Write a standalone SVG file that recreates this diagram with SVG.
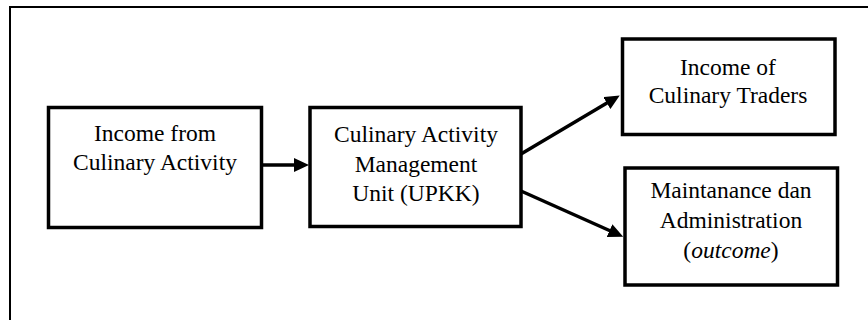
<svg xmlns="http://www.w3.org/2000/svg" width="868" height="320" viewBox="0 0 868 320">
<style>
.box{fill:#fff;stroke:#000;stroke-width:3.5}
.t{font-family:"Liberation Serif","Times New Roman",serif;font-size:23.5px;fill:#000;text-anchor:middle}
.c{stroke:#000;stroke-width:3.5;fill:none;marker-end:url(#ah)}
</style>
<defs>
<marker id="ah" markerUnits="userSpaceOnUse" markerWidth="15" markerHeight="14" viewBox="0 0 15 14" refX="6" refY="7" orient="auto">
<path d="M0,0 L15,7 L0,14 z" fill="#000"/>
</marker>
</defs>
<rect x="0" y="0" width="868" height="320" fill="#fff"/>
<rect x="10" y="7" width="900" height="340" fill="none" stroke="#000" stroke-width="2"/>
<g id="connectors">
<line class="c" x1="262" y1="165" x2="300" y2="165"/>
<line class="c" x1="521" y1="154" x2="612" y2="100"/>
<line class="c" x1="521" y1="191" x2="615" y2="233"/>
</g>
<g id="income-activity">
<rect class="box" x="48.5" y="107.5" width="213" height="120"/>
<text class="t" x="155" y="141">Income from</text>
<text class="t" x="155" y="170">Culinary Activity</text>
</g>
<g id="upkk">
<rect class="box" x="310" y="107.5" width="211" height="119"/>
<text class="t" x="416" y="142">Culinary Activity</text>
<text class="t" x="416" y="172">Management</text>
<text class="t" x="416" y="201">Unit (UPKK)</text>
</g>
<g id="traders">
<rect class="box" x="622.5" y="39" width="212.5" height="95.5"/>
<text class="t" x="728" y="75">Income of</text>
<text class="t" x="728" y="103">Culinary Traders</text>
</g>
<g id="maintenance">
<rect class="box" x="625" y="168" width="212.5" height="117"/>
<text class="t" x="731" y="198">Maintanance dan</text>
<text class="t" x="731" y="228">Administration</text>
<text class="t" x="731" y="258">(<tspan font-style="italic">outcome</tspan>)</text>
</g>
</svg>
